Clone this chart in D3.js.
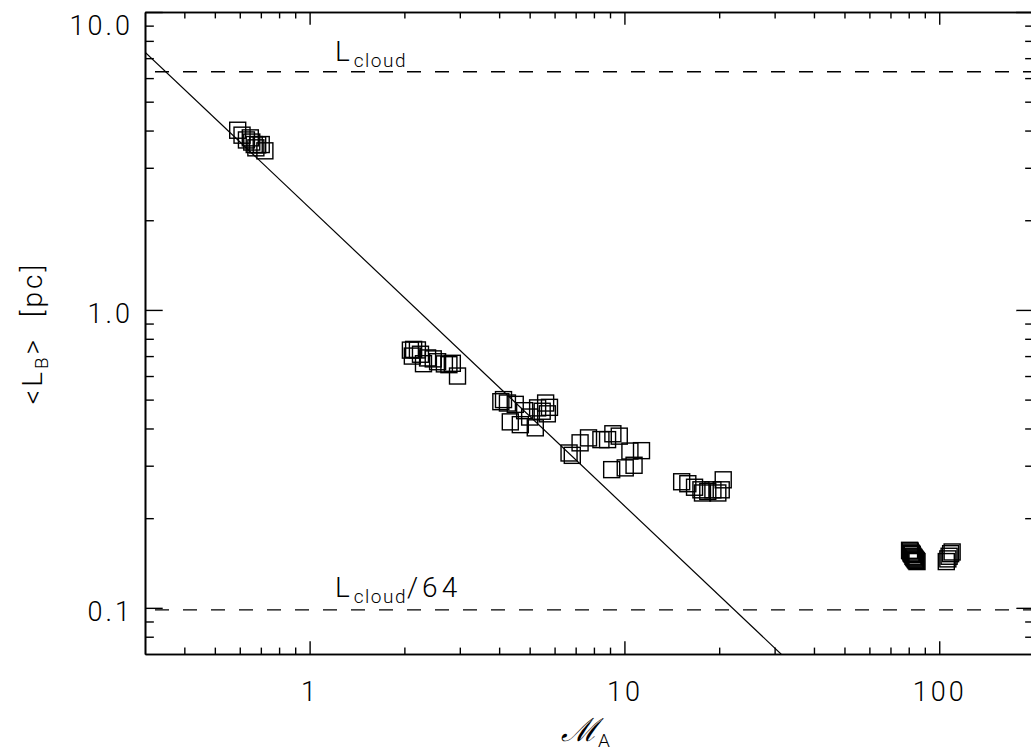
<!DOCTYPE html>
<html>
<head>
<meta charset="utf-8">
<script src="https://cdn.jsdelivr.net/npm/d3@7"></script>
<style>
  body { margin: 0; background: #fff; }
  text { font-family: Roboto, "DejaVu Sans", sans-serif; font-weight: 300; fill: #000; }
</style>
</head>
<body>
<div id="chart"></div>
<script>
(function () {
  "use strict";

  // Alfven Mach number and mean field length
  var machA = [
    0.591, 0.610, 0.630, 0.648, 0.655, 0.667, 0.675, 0.684, 0.702, 0.721,
    2.09, 2.12, 2.14, 2.20, 2.25, 2.30, 2.37, 2.47, 2.55, 2.68, 2.77, 2.84, 2.95,
    4.05, 4.13, 4.25, 4.34, 4.50, 4.67, 4.82, 5.00, 5.21, 5.30, 5.48, 5.62, 5.78, 5.69,
    6.67, 6.83, 7.23, 7.69, 8.42, 8.84, 9.19, 9.63, 9.11, 10.06, 10.73, 10.41, 11.33,
    15.2, 15.9, 16.7, 17.5, 17.7, 18.4, 19.1, 19.8, 20.3, 20.6,
    80.5, 80.9, 81.3, 81.7, 82.1, 82.5, 82.9, 83.3, 83.7, 84.1, 84.5, 85.0,
    105.3, 106.5, 107.5, 108.7, 109.9
  ];
  var lengthB = [
    4.01, 3.86, 3.72, 3.78, 3.66, 3.59, 3.50, 3.58, 3.59, 3.42,
    0.733, 0.700, 0.737, 0.734, 0.710, 0.660, 0.690, 0.685, 0.670, 0.659, 0.655, 0.662, 0.600,
    0.492, 0.500, 0.487, 0.421, 0.482, 0.412, 0.459, 0.437, 0.402, 0.469, 0.457, 0.487, 0.471, 0.448,
    0.331, 0.325, 0.358, 0.372, 0.367, 0.367, 0.384, 0.377, 0.291, 0.295, 0.301, 0.336, 0.337,
    0.265, 0.261, 0.254, 0.249, 0.243, 0.246, 0.249, 0.243, 0.249, 0.269,
    0.156, 0.155, 0.153, 0.152, 0.151, 0.149, 0.148, 0.147, 0.146, 0.145, 0.144, 0.143,
    0.143, 0.146, 0.149, 0.152, 0.154
  ];

  var fitCoef = 2.2,      // <L_B> = fitCoef * M_A^fitSlope
    fitSlope = -1,
    lCloud = 6.3;

  var xMajor = [1, 10, 100],
    xMinor = [0.4, 0.5, 0.6, 0.7, 0.8, 0.9, 2, 3, 4, 5, 6, 7, 8, 9, 20, 30, 40, 50, 60, 70, 80, 90],
    yMajor = [0.1, 1, 10],
    yMinor = [0.08, 0.09, 0.2, 0.3, 0.4, 0.5, 0.6, 0.7, 0.8, 0.9, 2, 3, 4, 5, 6, 7, 8, 9],
    yLabels = ["0.1", "1.0", "10.0"];

  var W = 1031, H = 753,
    left = 145, right = 1034, top = 12, bottom = 654;

  var svg = d3.select("#chart").append("svg")
    .attr("width", W).attr("height", H);

  var x = d3.scaleLog().domain([0.3, 200]).range([left, right]);
  var y = d3.scaleLog().domain([0.07, 10]).range([bottom, top]);

  var xLen = 12.8, yLen = 17.7;

  function styleAxis(g) {
    g.selectAll("path, line").attr("stroke", "#000").attr("stroke-width", 1.4);
    g.select(".domain").attr("stroke-width", 1.6);
    g.selectAll("text").style("font-size", "27px").style("font-family", null)
      .style("letter-spacing", "3px");
  }

  // bottom
  svg.append("g").attr("transform", "translate(0," + bottom + ")")
    .call(d3.axisBottom(x).tickValues(xMajor).tickSize(-xLen).tickSizeOuter(0)
      .tickPadding(28).tickFormat(d3.format("d")))
    .call(styleAxis);
  svg.append("g").attr("transform", "translate(0," + bottom + ")")
    .call(d3.axisBottom(x).tickValues(xMinor).tickSize(-xLen / 2).tickSizeOuter(0).tickFormat(""))
    .call(styleAxis);
  // top
  svg.append("g").attr("transform", "translate(0," + top + ")")
    .call(d3.axisTop(x).tickValues(xMajor).tickSize(-xLen).tickSizeOuter(0).tickFormat(""))
    .call(styleAxis);
  svg.append("g").attr("transform", "translate(0," + top + ")")
    .call(d3.axisTop(x).tickValues(xMinor).tickSize(-xLen / 2).tickSizeOuter(0).tickFormat(""))
    .call(styleAxis);
  // left
  var yAx = svg.append("g").attr("transform", "translate(" + left + ",0)")
    .call(d3.axisLeft(y).tickValues(yMajor).tickSize(-yLen).tickSizeOuter(0)
      .tickPadding(12).tickFormat(function (d, i) { return yLabels[i]; }))
    .call(styleAxis);
  yAx.selectAll(".tick text").attr("dy", function (d) { return d === 10 ? "0.85em" : "0.45em"; });
  svg.append("g").attr("transform", "translate(" + left + ",0)")
    .call(d3.axisLeft(y).tickValues(yMinor).tickSize(-yLen / 2).tickSizeOuter(0).tickFormat(""))
    .call(styleAxis);
  // right
  svg.append("g").attr("transform", "translate(" + right + ",0)")
    .call(d3.axisRight(y).tickValues(yMajor).tickSize(-yLen).tickSizeOuter(0).tickFormat(""))
    .call(styleAxis);
  svg.append("g").attr("transform", "translate(" + right + ",0)")
    .call(d3.axisRight(y).tickValues(yMinor).tickSize(-yLen / 2).tickSizeOuter(0).tickFormat(""))
    .call(styleAxis);

  svg.append("clipPath").attr("id", "plotclip")
    .append("rect").attr("x", left).attr("y", top)
    .attr("width", right - left).attr("height", bottom - top);

  var plot = svg.append("g").attr("clip-path", "url(#plotclip)");

  // reference lengths
  [lCloud, lCloud / 64].forEach(function (v) {
    plot.append("line")
      .attr("x1", left).attr("x2", right)
      .attr("y1", y(v)).attr("y2", y(v))
      .attr("stroke", "#000").attr("stroke-width", 1.4)
      .attr("stroke-dasharray", "14,14").attr("stroke-dashoffset", 18);
  });

  // power-law fit
  var fitLine = d3.line()
    .x(function (d) { return x(d); })
    .y(function (d) { return y(fitCoef * Math.pow(d, fitSlope)); });
  plot.append("path")
    .datum(x.domain())
    .attr("d", fitLine)
    .attr("fill", "none").attr("stroke", "#000").attr("stroke-width", 1.2);

  // squares
  var s = 16;
  plot.selectAll(".pt")
    .data(machA.map(function (m, i) { return [m, lengthB[i]]; }))
    .enter().append("rect")
    .attr("class", "pt")
    .attr("x", function (d) { return x(d[0]) - s / 2; })
    .attr("y", function (d) { return y(d[1]) - s / 2; })
    .attr("width", s).attr("height", s)
    .attr("fill", "none").attr("stroke", "#000").attr("stroke-width", 1.4);

  // annotations
  function lLabel(yPos, suffix) {
    var t = svg.append("text").attr("x", 335).attr("y", yPos)
      .style("font-size", "28px").style("letter-spacing", "4px");
    t.append("tspan").text("L");
    t.append("tspan").attr("dy", 6).style("font-size", "19px").style("letter-spacing", "1.5px").text("cloud");
    if (suffix) t.append("tspan").attr("dy", -6).text(suffix);
  }
  lLabel(y(lCloud) - 11, "");
  lLabel(y(lCloud / 64) - 13, "/64");

  // axis titles
  var xt = svg.append("text").attr("x", (left + right) / 2 - 4).attr("y", 741)
    .attr("text-anchor", "middle").style("font-size", "32px");
  xt.append("tspan").style("font-family", "'DejaVu Serif', serif").style("font-style", "italic").text("\u2133");
  xt.append("tspan").attr("dy", 6).style("font-size", "19px").text("A");

  var yt = svg.append("text")
    .attr("transform", "translate(42," + ((top + bottom) / 2) + ") rotate(-90)")
    .attr("text-anchor", "middle").style("font-size", "28px").style("letter-spacing", "3px");
  yt.append("tspan").text("<L");
  yt.append("tspan").attr("dy", 6).style("font-size", "19px").text("B");
  yt.append("tspan").attr("dy", -6).text(">\u00a0\u00a0[pc]");
})();
</script>
</body>
</html>
